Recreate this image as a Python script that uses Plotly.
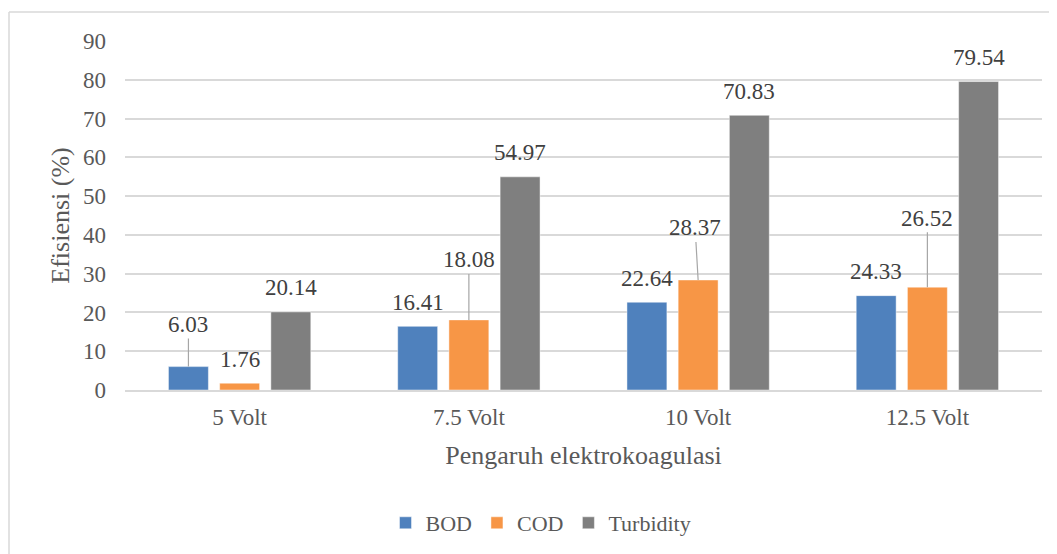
import plotly.graph_objects as go

categories = ["5 Volt", "7.5 Volt", "10 Volt", "12.5 Volt"]
bod = [6.03, 16.41, 22.64, 24.33]
cod = [1.76, 18.08, 28.37, 26.52]
turbidity = [20.14, 54.97, 70.83, 79.54]
series_names = ["BOD", "COD", "Turbidity"]
series_values = [bod, cod, turbidity]
colors = ["#4F81BD", "#F79646", "#7F7F7F"]

# label leader lines (pixel offsets of label above bar top)
leader = {
    (0, 0): (0, -42),
    (1, 1): (0, -60),
    (1, 2): (-3, -52),
    (1, 3): (0, -69),
}

FONT = "Liberation Serif, Times New Roman, serif"
BARGAP = 0.33

W, H = 1049, 546          # page body has an 8px margin
L, R, T, B = 117, 15, 33, 164
PW, PH = W - L - R, H - T - B

fig = go.Figure()
for name, vals, col in zip(series_names, series_values, colors):
    fig.add_trace(go.Bar(
        x=categories, y=vals, name=name,
        marker=dict(color=col, line=dict(color="rgba(255,255,255,0.45)", width=1)),
        hoverinfo="skip",
    ))

slot = (1 - BARGAP) / 3
annotations = []
for si, vals in enumerate(series_values):
    for ci, v in enumerate(vals):
        xpos = ci + (si - 1) * slot
        key = (si, ci)
        if key in leader:
            ax, ay = leader[key]
            annotations.append(dict(
                x=xpos, y=v, xref="x", yref="y", text=f"{v:.2f}",
                showarrow=True, arrowhead=0, arrowwidth=1.2, arrowcolor="#A6A6A6",
                ax=ax, ay=ay, standoff=0, borderpad=1,
                font=dict(family=FONT, size=23, color="#404040"),
            ))
        else:
            annotations.append(dict(
                x=xpos, y=v, xref="x", yref="y", text=f"{v:.2f}",
                showarrow=False, yanchor="middle", yshift=24,
                font=dict(family=FONT, size=23, color="#404040"),
            ))

fig.update_layout(
    width=W, height=H,
    margin=dict(l=L, r=R, t=T, b=B, autoexpand=False),
    paper_bgcolor="white", plot_bgcolor="white",
    font=dict(family=FONT, color="#595959"),
    barmode="group", bargap=BARGAP, bargroupgap=0.22,
    showlegend=True,
    legend=dict(orientation="h", xref="container", yref="container",
                x=533 / W, xanchor="center", y=1 - 515 / H, yanchor="middle",
                font=dict(family=FONT, size=22, color="#595959"),
                itemwidth=30, tracegroupgap=0),
    annotations=annotations,
    xaxis=dict(
        type="category", showgrid=False, zeroline=False, automargin=False,
        showline=True, linecolor="#D9D9D9", linewidth=1.5,
        tickfont=dict(family=FONT, size=23, color="#595959"),
        ticks="", ticklabelstandoff=6,
        title=dict(text="Pengaruh elektrokoagulasi", standoff=16,
                   font=dict(family=FONT, size=26, color="#595959")),
    ),
    yaxis=dict(
        range=[0, 90], dtick=10, showgrid=True, gridcolor="#D9D9D9", gridwidth=1.5,
        zeroline=False, showline=False, automargin=False,
        tickfont=dict(family=FONT, size=23, color="#595959"),
        ticks="", ticklabelstandoff=18,
        title=dict(text="Efisiensi (%)", standoff=5,
                   font=dict(family=FONT, size=26, color="#595959")),
    ),
    shapes=[
        dict(type="line", xref="paper", yref="paper",
             x0=(1 - L) / PW, x1=(1 - L) / PW, y0=(PH + T - 4) / PH, y1=-(B + 10) / PH,
             line=dict(color="#D9D9D9", width=1.5)),
        dict(type="line", xref="paper", yref="paper",
             x0=(1 - L) / PW, x1=(W + 10 - L) / PW, y0=(PH + T - 4) / PH, y1=(PH + T - 4) / PH,
             line=dict(color="#D9D9D9", width=1.5)),
    ],
)

fig.write_html("out.html")
